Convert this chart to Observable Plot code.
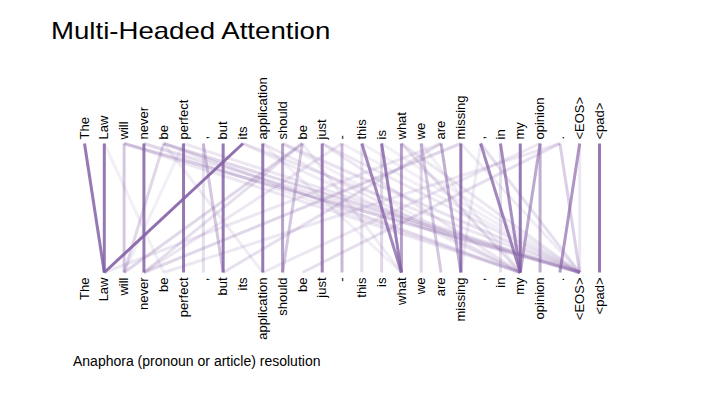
<!DOCTYPE html>
<html>
<head>
<meta charset="utf-8">
<script src="https://cdn.jsdelivr.net/npm/d3@7"></script>
<script src="https://cdn.jsdelivr.net/npm/@observablehq/plot@0.6"></script>
<style>
  html, body { margin: 0; padding: 0; background: #fff; width: 720px; height: 405px; overflow: hidden; }
  body { position: relative; font-family: "Liberation Sans", Arial, sans-serif; }
  #title { position: absolute; left: 51px; top: 17px; font-size: 24px; line-height: 28px; color: #000;
           transform: scaleX(1.15); transform-origin: 0 0; white-space: nowrap; }
  #chart { position: absolute; left: 0; top: 60px; }
  #caption { position: absolute; left: 73px; top: 353px; font-size: 14px; line-height: 16px; color: #000; white-space: nowrap; }
</style>
</head>
<body>
<div id="title">Multi-Headed Attention</div>
<div id="chart"></div>
<div id="caption">Anaphora (pronoun or article) resolution</div>
<script>
const tokens = ["The", "Law", "will", "never", "be", "perfect", ",", "but", "its", "application",
  "should", "be", "just", "-", "this", "is", "what", "we", "are", "missing", ",", "in", "my",
  "opinion", ".", "<EOS>", "<pad>"];

// attention links: source (top row) index, target (bottom row) index, weight
const linkSource = [0, 1, 2, 2, 3, 4, 4, 4, 4, 5, 5, 6, 6, 7, 8, 8, 9, 10, 10, 11, 11, 11, 12, 12,
  13, 13, 14, 14, 15, 15, 16, 16, 17, 17, 18, 18, 18, 19, 19, 20, 20, 21, 21, 22, 23, 23, 24, 24,
  24, 25, 25, 26, 2, 3, 9, 10, 12, 13, 14, 16, 17, 9, 1, 5, 23, 3, 8, 11, 15, 19, 20];
const linkTarget = [1, 1, 2, 25, 3, 2, 22, 25, 9, 5, 25, 6, 7, 7, 1, 25, 9, 10, 25, 10, 2, 3, 12, 22,
  13, 3, 16, 14, 16, 15, 16, 22, 17, 18, 19, 7, 1, 19, 3, 22, 25, 22, 21, 22, 23, 22, 25, 11,
  4, 24, 25, 26, 22, 25, 22, 22, 25, 25, 25, 25, 22, 16, 4, 2, 9, 22, 22, 16, 25, 25, 19];
const linkWeight = [0.85, 0.85, 0.35, 0.3, 0.85, 0.25, 0.22, 0.25, 0.12, 0.85, 0.15, 0.2, 0.35, 0.85,
  0.9, 0.15, 0.85, 0.6, 0.18, 0.35, 0.25, 0.2, 0.8, 0.15, 0.45, 0.15, 0.75, 0.2, 0.8, 0.25, 0.6,
  0.2, 0.25, 0.35, 0.5, 0.2, 0.15, 0.85, 0.25, 0.75, 0.2, 0.7, 0.2, 0.85, 0.5, 0.55, 0.3, 0.2,
  0.15, 0.65, 0.15, 0.85, 0.15, 0.15, 0.15, 0.1, 0.15, 0.1, 0.1, 0.15, 0.1, 0.1, 0.1, 0.1, 0.15,
  0.12, 0.12, 0.12, 0.1, 0.12, 0.12];

const links = linkSource.map((s, i) => ({ s, t: linkTarget[i], w: linkWeight[i] }));
const labelData = tokens.map((tok, i) => ({ i, tok }));

const chart = Plot.plot({
  width: 720,
  height: 290,
  margin: 0,
  x: { type: "linear", domain: [0, tokens.length - 1], range: [84, 599], axis: null },
  y: { type: "linear", domain: [0, 1], range: [83, 212], axis: null },
  style: { fontFamily: "'Liberation Sans', Arial, sans-serif", background: "transparent" },
  marks: [
    Plot.link(links, {
      x1: "s", x2: "t", y1: () => 0, y2: () => 1,
      stroke: "#8460a5", strokeOpacity: "w", strokeWidth: 3
    }),
    Plot.text(labelData, {
      x: "i", y: () => 0, text: "tok", rotate: -90, textAnchor: "start",
      dy: -4, fontSize: 13, fill: "#000"
    }),
    Plot.text(labelData, {
      x: "i", y: () => 1, text: "tok", rotate: -90, textAnchor: "end",
      dy: 5, fontSize: 13, fill: "#000"
    })
  ]
});
document.getElementById("chart").appendChild(chart);
</script>
</body>
</html>
